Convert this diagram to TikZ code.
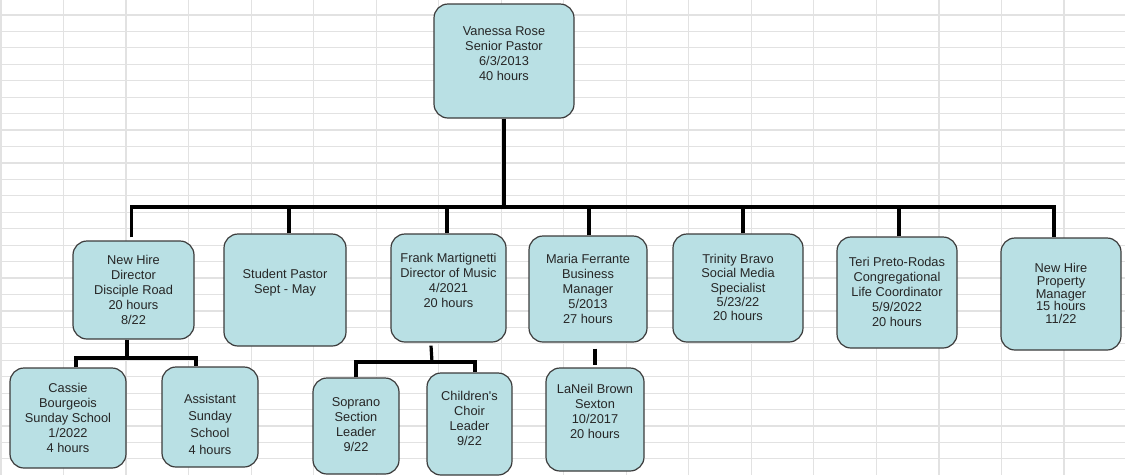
\documentclass[tikz,border=0pt]{standalone}
\usepackage{fontspec}
\setmainfont{Liberation Sans}
\usetikzlibrary{positioning, calc}
\definecolor{cardfill}{RGB}{185,224,228}
\definecolor{cardline}{RGB}{60,60,60}
\definecolor{cellline}{RGB}{226,226,226}

\begin{document}
\begin{tikzpicture}[x=1pt, y=-1pt,
  card/.style={draw=cardline, fill=cardfill, line width=1.2pt, rounded corners=14pt, inner sep=0pt},
  txt/.style={align=center, inner sep=0pt, text=black!85, font=\fontsize{12.8}{15}\selectfont},
  wire/.style={line width=3.2pt, black}]
\fill[white] (0,0) rectangle (1125,475);
\useasboundingbox (0,0) rectangle (1125,475);
% sheet cells behind the chart
\foreach \i in {0,...,17} \draw[cellline, line width=1.2pt] (1+62.53*\i,0) -- (1+62.53*\i,475);
\foreach \j in {0,...,27} \draw[cellline, line width=1.2pt] (0,15+16.44*\j) -- (1125,15+16.44*\j);

% top
\node[card, minimum width=140, minimum height=114] (vr) at (504,61) {};
\node[txt] (vr-t) at (504,53.5) {Vanessa Rose\\Senior Pastor\\6/3/2013\\40 hours};

% second row
\node[card, minimum width=121, minimum height=98] (nhd) at (133.5,290) {};
\node[txt] (nhd-t) at (133.5,290) {New Hire\\Director\\Disciple Road\\20 hours\\8/22};
\node[card, minimum width=122, minimum height=112] (sp) at (285,290) {};
\node[txt] (sp-t) at (285,283) {Student Pastor\\Sept - May};
\node[card, minimum width=115, minimum height=108] (fm) at (448.5,288) {};
\node[txt] (fm-t) at (448.5,280) {Frank Martignetti\\Director of Music\\4/2021\\20 hours};
\node[card, minimum width=118, minimum height=106] (mf) at (588,289) {};
\node[txt] (mf-t) at (588,288.5) {Maria Ferrante\\Business\\Manager\\5/2013\\27 hours};
\node[card, minimum width=130, minimum height=108] (tb) at (738,288) {};
\node[txt, font=\fontsize{12.8}{14.3}\selectfont] (tb-t) at (738,287.5) {Trinity Bravo\\Social Media\\Specialist\\5/23/22\\20 hours};
\node[card, minimum width=120, minimum height=111] (tp) at (897,292.5) {};
\node[txt] (tp-t) at (897,291.5) {Teri Preto-Rodas\\Congregational\\Life Coordinator\\5/9/2022\\20 hours};
\node[card, minimum width=120, minimum height=112] (np) at (1061,294) {};
\node[txt, font=\fontsize{12.8}{12.8}\selectfont] (np-t) at (1061,293.5) {New Hire\\Property\\Manager\\15 hours\\11/22};

% third row
\node[card, minimum width=116, minimum height=100] (cb) at (68,418) {};
\node[txt] (cb-t) at (68,418) {Cassie\\Bourgeois\\Sunday School\\1/2022\\4 hours};
\node[card, minimum width=96, minimum height=100] (as) at (210,417) {};
\node[txt, font=\fontsize{12.8}{17}\selectfont] (as-t) at (210,424.5) {Assistant\\Sunday\\School\\4 hours};
\node[card, minimum width=86, minimum height=96] (ss) at (356,426) {};
\node[txt] (ss-t) at (356,425) {Soprano\\Section\\Leader\\9/22};
\node[card, minimum width=85, minimum height=102] (cc) at (469.5,424) {};
\node[txt] (cc-t) at (469.5,418) {Children\textquotesingle s\\Choir\\Leader\\9/22};
\node[card, minimum width=98, minimum height=103] (lb) at (595,419.5) {};
\node[txt] (lb-t) at (595,411.5) {LaNeil Brown\\Sexton\\10/2017\\20 hours};

% connectors
\coordinate (bus) at (504,207);
\draw[wire] (vr.south) -- (bus);
\draw[wire] ([xshift=-2,yshift=3]nhd.north) |- ([xshift=-7]np.north |- bus) -- ([xshift=-7]np.north);
\draw[wire] ([xshift=4]sp.north) -- ([xshift=4]sp.north |- bus);
\draw[wire] ([xshift=-1.5]fm.north) -- ([xshift=-1.5]fm.north |- bus);
\draw[wire] ([xshift=1]mf.north) -- ([xshift=1]mf.north |- bus);
\draw[wire] ([xshift=5]tb.north) -- ([xshift=5]tb.north |- bus);
\draw[wire] ([xshift=2]tp.north) -- ([xshift=2]tp.north |- bus);

\coordinate (nhd-j) at (127,358);
\draw[wire] ([xshift=-6.5]nhd.south) -- (nhd-j);
\draw[wire] ([xshift=8]cb.north) |- (nhd-j) -| ([xshift=-14]as.north);

\coordinate (fm-j) at (432,362);
\draw[wire] ([xshift=-17.5,yshift=-3]fm.south) -- (fm-j);
\draw[wire] (ss.north) |- (fm-j) -| ([xshift=5.5]cc.north);

\draw[wire] ([yshift=-6]mf.south -| lb.north) -- ([yshift=2]lb.north);
\end{tikzpicture}
\end{document}
